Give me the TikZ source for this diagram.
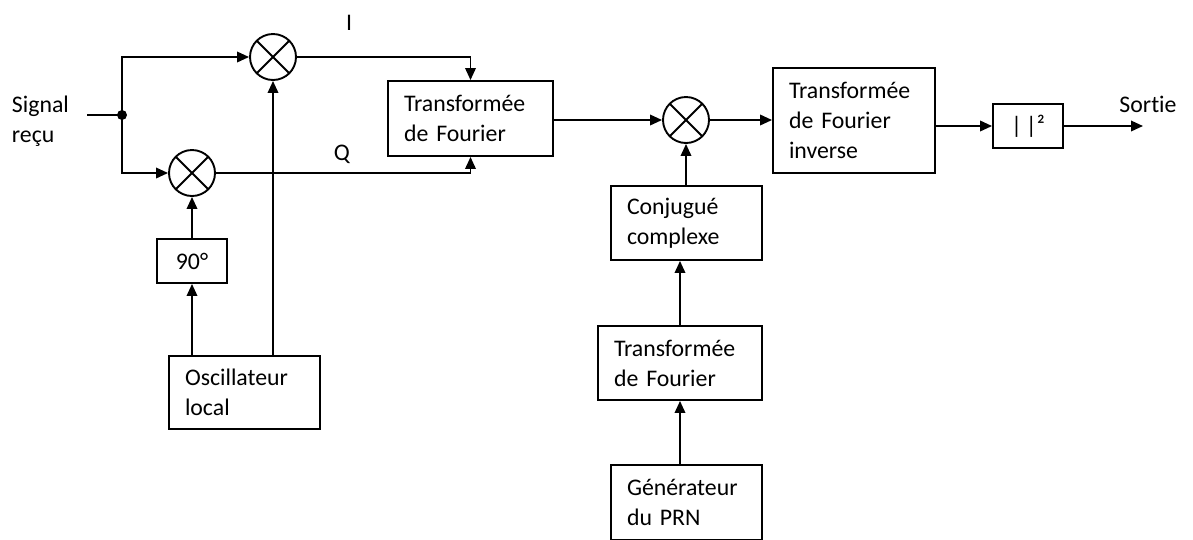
\documentclass[tikz,border=0pt]{standalone}
\usepackage{fontspec}
\setmainfont{Carlito}[RawFeature=-liga]
\usetikzlibrary{arrows.meta}
\begin{document}
\begin{tikzpicture}[x=1pt,y=-1pt, line width=1.9pt,
  arr/.style={-{Triangle[length=12pt,width=10.5pt]}},
  box/.style={draw, rectangle, inner xsep=16pt, inner ysep=0pt, align=left, font=\fontsize{23.8}{30}\selectfont},
  sbox/.style={draw, rectangle, inner sep=0pt, font=\fontsize{23.8}{30}\selectfont},
  mult/.style={draw, circle, minimum size=46pt, inner sep=0pt,
    path picture={\draw[line width=1.9pt] (path picture bounding box.north west) -- (path picture bounding box.south east) (path picture bounding box.north east) -- (path picture bounding box.south west);}},
  lbl/.style={font=\fontsize{23.8}{30}\selectfont, inner sep=0pt, align=left}]
\clip (0,0) rectangle (1193,539);
\fill[white] (0,0) rectangle (1193,539);

% multipliers
\node[mult] (m1) at (273,57) {};
\node[mult] (m2) at (192,173) {};
\node[mult] (m3) at (686,120) {};

% boxes
\node[box, text width=133pt, minimum height=75pt] (tf1) at (470.5,118.5) {Transformée\\de Fourier};
\node[box, text width=130pt, minimum height=105pt] (tfi) at (854,120.5) {Transformée\\de Fourier\\inverse};
\node[sbox, minimum width=70pt, minimum height=44pt] (sq) at (1028,126) {|\,|²};
\node[box, text width=119pt, minimum height=74pt] (conj) at (686.5,223) {Conjugué\\complexe};
\node[box, text width=132pt, minimum height=74pt] (tf2) at (680,363) {Transformée\\de Fourier};
\node[box, text width=119pt, minimum height=75pt] (gen) at (686.5,502.5) {Générateur\\du PRN};
\node[sbox, minimum width=70pt, minimum height=44pt] (p90) at (192,261) {90°};
\node[box, text width=119pt, minimum height=73pt] (osc) at (244.5,392.5) {Oscillateur\\local};

% labels
\node[lbl, anchor=west] (sig) at (11,121) {Signal\\reçu};
\node[lbl] (li) at (349,23) {I};
\node[lbl] (lq) at (342,154) {Q};
\node[lbl] (lout) at (1148,104) {Sortie};

% coordinates
\coordinate (in) at (87,115);
\coordinate (j) at (122,115);
\coordinate (out) at (1143,126);

% connectors
\draw (in) -- (j);
\fill (j) circle (5pt);
\draw[arr] (j) |- (m1.west);
\draw[arr] (j) |- (m2.west);
\draw[arr] (m1.east) -| (tf1.north);
\draw[arr] (m2.east) -| (tf1.south);
\draw[arr] (tf1.east |- m3.west) -- (m3.west);
\draw[arr] (m3.east) -- (tfi.west |- m3.east);
\draw[arr] (tfi.east |- sq.west) -- (sq.west);
\draw[arr] (sq.east) -- (out);
\draw[arr] (conj.north -| m3.south) -- (m3.south);
\draw[arr] (tf2.north) -- (conj.south -| tf2.north);
\draw[arr] (gen.north -| tf2.south) -- (tf2.south);
\draw[arr] (osc.north -| p90.south) -- (p90.south);
\draw[arr] (p90.north) -- (m2.south);
\draw[arr] (osc.north -| m1.south) -- (m1.south);
\end{tikzpicture}
\end{document}
